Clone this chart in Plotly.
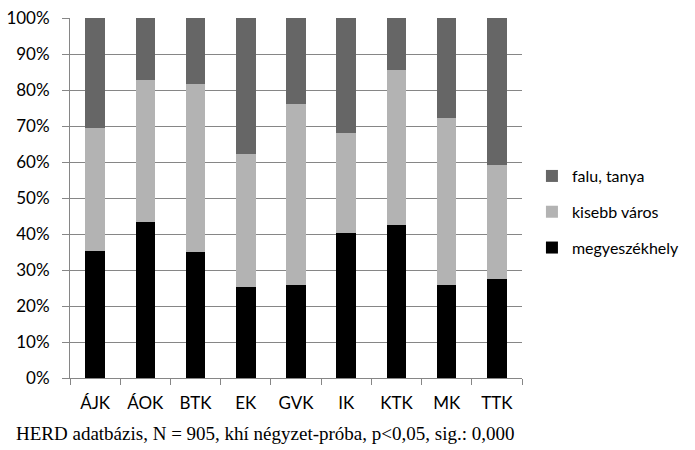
import plotly.graph_objects as go

categories = ["ÁJK", "ÁOK", "BTK", "EK", "GVK", "IK", "KTK", "MK", "TTK"]
megyeszekhely = [35.2, 43.3, 35.0, 25.3, 25.7, 40.2, 42.6, 25.9, 27.6]
kisebb_varos = [34.2, 39.4, 46.6, 36.8, 50.3, 27.8, 42.9, 46.2, 31.7]
falu_tanya = [30.6, 17.3, 18.4, 37.9, 24.0, 32.0, 14.5, 27.9, 40.7]
y_ticks = [0, 10, 20, 30, 40, 50, 60, 70, 80, 90, 100]
y_tick_labels = [f"{v}%" for v in y_ticks]
footer = "HERD adatbázis, N = 905, khí négyzet-próba, p<0,05, sig.: 0,000"

series = [
    ("megyeszékhely", megyeszekhely, "#000000", 3),
    ("kisebb város", kisebb_varos, "#b3b3b3", 2),
    ("falu, tanya", falu_tanya, "#666666", 1),
]

fig = go.Figure()
for name, vals, col, rank in series:
    fig.add_trace(go.Bar(
        x=categories, y=vals, name=name, marker_color=col,
        marker_line_width=0, legendgroup=name, legendrank=rank,
    ))

W, H = 695, 450
font_main = "Lato, 'Open Sans', sans-serif"
fig.update_layout(
    width=W, height=H,
    barmode="stack", bargap=0.61,
    paper_bgcolor="white", plot_bgcolor="white",
    margin=dict(l=70, r=W - 522, t=18, b=H - 378, autoexpand=False),
    font=dict(family=font_main, size=17, color="#000000"),
    legend=dict(
        x=1.022, xanchor="left", y=0.461, yanchor="middle",
        traceorder="grouped", tracegroupgap=12,
        font=dict(family=font_main, size=16, color="#000000"),
        bgcolor="rgba(0,0,0,0)",
    ),
    showlegend=True,
)
fig.update_yaxes(
    range=[0, 100], tickvals=y_ticks, ticktext=y_tick_labels,
    showgrid=True, gridcolor="#868686", gridwidth=1,
    showline=True, linecolor="#868686", linewidth=1,
    ticks="outside", ticklen=7, tickcolor="#868686",
    zeroline=False, ticklabelstandoff=9, automargin=False,
    ticklabeloverflow="allow",
)
fig.update_xaxes(
    showline=True, linecolor="#868686", linewidth=1,
    ticks="outside", ticklen=6, tickcolor="#868686",
    tickson="boundaries", showgrid=False,
    ticklabelstandoff=10, automargin=False,
)
fig.add_annotation(
    text=footer, xref="paper", yref="paper",
    x=-0.124, y=-0.153, xanchor="left", yanchor="middle",
    showarrow=False,
    font=dict(family="'Liberation Serif', 'DejaVu Serif', serif", size=19, color="#000000"),
)

fig.write_html(
    "out.html",
    config={"displayModeBar": False},
    post_script="document.body.style.margin='0';",
)
